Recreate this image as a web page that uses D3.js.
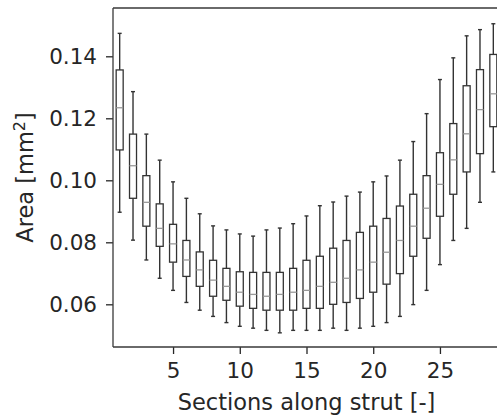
<!DOCTYPE html>
<html><head><meta charset="utf-8">
<script src="https://cdn.jsdelivr.net/npm/d3@7"></script>
<style>body{margin:0;background:#fff;} svg{display:block;}</style>
</head><body>
<svg id="chart" width="497" height="420"></svg>
<script>
const sections = d3.range(1, 30);
const whiskerLow = [0.0897,0.0807,0.0743,0.0684,0.0645,0.0606,0.0581,0.0561,0.0541,0.0529,0.0523,0.0516,0.0508,0.0516,0.0516,0.0516,0.0523,0.0516,0.0523,0.0529,0.0541,0.0561,0.0599,0.0645,0.0728,0.0806,0.0845,0.0929,0.1027];
const q1 = [0.1098,0.0942,0.0852,0.0787,0.0736,0.0690,0.0658,0.0626,0.0613,0.0594,0.0587,0.0581,0.0581,0.0581,0.0587,0.0587,0.0600,0.0606,0.0619,0.0639,0.0665,0.0699,0.0755,0.0813,0.0884,0.0955,0.1027,0.1086,0.1173];
const median = [0.1234,0.1047,0.0929,0.0845,0.0795,0.0743,0.0711,0.0678,0.0658,0.0639,0.0632,0.0626,0.0632,0.0639,0.0645,0.0658,0.0671,0.0684,0.0711,0.0736,0.0768,0.0806,0.0852,0.0910,0.0987,0.1066,0.1150,0.1228,0.1279];
const q3 = [0.1356,0.1149,0.1015,0.0924,0.0858,0.0806,0.0769,0.0742,0.0716,0.0705,0.0703,0.0703,0.0703,0.0716,0.0742,0.0755,0.0781,0.0806,0.0832,0.0852,0.0877,0.0917,0.0955,0.1015,0.1089,0.1183,0.1305,0.1357,0.1406];
const whiskerHigh = [0.1474,0.1286,0.1149,0.1065,0.0995,0.0942,0.0892,0.0853,0.0840,0.0827,0.0820,0.0840,0.0846,0.0860,0.0885,0.0918,0.0930,0.0949,0.0962,0.0995,0.1014,0.1065,0.1125,0.1215,0.1325,0.1395,0.1466,0.1486,0.1505];
const xTicks = [5, 10, 15, 20, 25];
const yTicks = [0.06, 0.08, 0.10, 0.12, 0.14];

const data = sections.map((s, i) => ({s, lo: whiskerLow[i], q1: q1[i], med: median[i], q3: q3[i], hi: whiskerHigh[i]}));

const svg = d3.select("#chart");
const L = 113, R = 500, T = 8, B = 347;
const x = d3.scaleLinear().domain([0.5, 29.5]).range([L, R]);
const y = d3.scaleLinear().domain([0.04623, 0.15558]).range([B, T]);
const dark = "#262626";
const font = "DejaVu Sans, sans-serif";

// boxes
const g = svg.append("g");
const boxW = 7, capW = 4;
const bx = g.selectAll("g.box").data(data).enter().append("g").attr("class", "box");
bx.append("line").attr("x1", d => x(d.s)).attr("x2", d => x(d.s))
  .attr("y1", d => y(d.lo)).attr("y2", d => y(d.q1)).attr("stroke", "#333").attr("stroke-width", 1.4);
bx.append("line").attr("x1", d => x(d.s)).attr("x2", d => x(d.s))
  .attr("y1", d => y(d.q3)).attr("y2", d => y(d.hi)).attr("stroke", "#333").attr("stroke-width", 1.4);
bx.append("line").attr("x1", d => x(d.s) - capW/2).attr("x2", d => x(d.s) + capW/2)
  .attr("y1", d => y(d.lo)).attr("y2", d => y(d.lo)).attr("stroke", "#333").attr("stroke-width", 1.4);
bx.append("line").attr("x1", d => x(d.s) - capW/2).attr("x2", d => x(d.s) + capW/2)
  .attr("y1", d => y(d.hi)).attr("y2", d => y(d.hi)).attr("stroke", "#333").attr("stroke-width", 1.4);
bx.append("rect").attr("x", d => x(d.s) - boxW/2).attr("width", boxW)
  .attr("y", d => y(d.q3)).attr("height", d => y(d.q1) - y(d.q3))
  .attr("fill", "#fff").attr("stroke", "#333").attr("stroke-width", 1.3);
bx.append("line").attr("x1", d => x(d.s) - boxW/2).attr("x2", d => x(d.s) + boxW/2)
  .attr("y1", d => y(d.med)).attr("y2", d => y(d.med)).attr("stroke", "#999").attr("stroke-width", 1.3);

// axes
const xAxis = svg.append("g").attr("transform", `translate(0,${B})`)
  .call(d3.axisBottom(x).tickValues(xTicks).tickSize(7).tickPadding(9).tickFormat(d3.format("d")));
const yAxis = svg.append("g").attr("transform", `translate(${L},0)`)
  .call(d3.axisLeft(y).tickValues(yTicks).tickSize(7).tickPadding(9).tickFormat(d3.format(".2f")));
[xAxis, yAxis].forEach(a => {
  a.select(".domain").remove();
  a.selectAll(".tick line").attr("stroke", dark).attr("stroke-width", 1.3);
  a.selectAll(".tick text").attr("fill", dark).style("font-family", font).style("font-size", "21.5px");
});
// spines
svg.append("path").attr("d", `M${L},${B}H${R}M${L},${B}V${T}M${L},${T}H${R}`)
  .attr("stroke", "#3a3a3a").attr("stroke-width", 1.3).attr("fill", "none");

svg.append("text").attr("x", (L + R) / 2).attr("y", 410).attr("text-anchor", "middle")
  .attr("fill", dark).style("font-family", font).style("font-size", "22.5px")
  .text("Sections along strut [-]");
const yl = svg.append("text").attr("transform", `translate(33,${(T + B) / 2}) rotate(-90)`)
  .attr("text-anchor", "middle").attr("fill", dark).style("font-family", font).style("font-size", "22.5px");
yl.append("tspan").text("Area [mm");
yl.append("tspan").attr("dy", -8).style("font-size", "16px").text("2");
yl.append("tspan").attr("dy", 8).text("]");
</script>
</body></html>
